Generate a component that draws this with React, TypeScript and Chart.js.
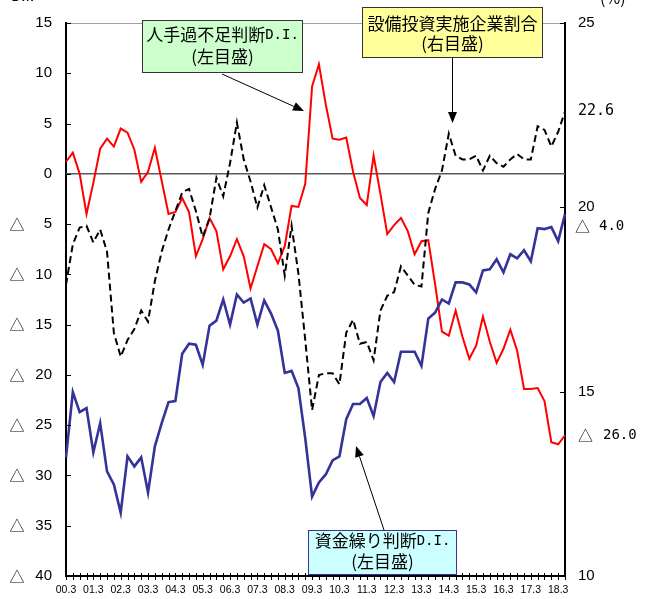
import React, { useEffect, useRef } from "react";
import { Chart, registerables } from "chart.js";

Chart.register(...registerables);

// quarterly categories 00.3 ... 18.6
const categories: string[] = [];
for (let y = 0; y <= 18; y++) {
  for (const m of [3, 6, 9, 12]) {
    if (y === 18 && m > 6) break;
    categories.push(`${String(y).padStart(2, "0")}.${m}`);
  }
}

// 人手過不足判断D.I. (left axis)
const labourDI: number[] = [
  1.2, 2.1, 0.0, -4.0, -0.9, 2.5, 3.5, 2.7, 4.5, 4.1,
  2.4, -0.8, 0.2, 2.6, -0.7, -4.0, -3.8, -2.4, -3.8, -8.2,
  -6.5, -4.4, -5.7, -9.5, -8.2, -6.5, -8.2, -11.4, -9.2, -7.0,
  -7.5, -8.9, -7.2, -3.2, -3.3, -1.0, 8.7, 10.9, 6.9, 3.5,
  3.4, 3.6, 0.2, -2.4, -3.1, 1.8, -2.0, -6.0, -5.1, -4.4,
  -5.7, -8.0, -6.7, -6.6, -11.0, -15.7, -16.1, -13.6, -16.2, -18.4,
  -17.1, -14.2, -16.7, -18.8, -17.4, -15.5, -17.6, -21.4, -21.4, -21.3,
  -22.6, -26.7, -26.9, -26.0,
];

// 資金繰り判断D.I. (left axis)
const financeDI: number[] = [
  -28.2, -21.7, -23.7, -23.3, -27.7, -24.8, -29.6, -30.9, -33.7, -28.1,
  -29.1, -28.2, -31.7, -27.1, -24.8, -22.7, -22.6, -17.9, -16.9, -17.0,
  -19.0, -15.1, -14.6, -12.5, -15.0, -12.0, -12.8, -12.4, -15.0, -12.6,
  -13.9, -15.6, -19.8, -19.6, -21.3, -26.3, -32.1, -30.7, -29.9, -28.5,
  -28.1, -24.4, -22.9, -22.9, -22.3, -24.1, -20.7, -19.8, -20.7, -17.7,
  -17.7, -17.7, -19.1, -14.4, -13.8, -12.5, -12.9, -10.8, -10.8, -11.0,
  -11.8, -9.6, -9.5, -8.5, -9.8, -8.0, -8.4, -7.6, -8.7, -5.4,
  -5.5, -5.3, -6.7, -4.0,
];

// 設備投資実施企業割合 (right axis, %)
const capexShare: number[] = [
  17.9, 19.0, 19.45, 19.5, 19.05, 19.4, 18.8, 16.6, 15.95, 16.4,
  16.7, 17.2, 16.9, 18.0, 18.8, 19.4, 19.9, 20.4, 20.5, 19.9,
  19.2, 19.7, 20.8, 20.3, 21.2, 22.3, 21.3, 20.7, 20.0, 20.6,
  20.0, 19.4, 18.15, 19.5, 18.2, 16.4, 14.5, 15.45, 15.5, 15.5,
  15.2, 16.6, 16.95, 16.3, 16.35, 15.85, 17.2, 17.6, 17.7, 18.4,
  18.15, 17.9, 17.85, 19.85, 20.5, 21.0, 22.0, 21.4, 21.3, 21.3,
  21.4, 21.0, 21.4, 21.2, 21.1, 21.3, 21.45, 21.3, 21.3, 22.2,
  22.1, 21.65, 22.05, 22.6,
];

const leftTicksMin = -40;
const leftTicksMax = 15;
const rightTicksMin = 10;
const rightTicksMax = 25;

const CJK = "'Noto Sans CJK JP'";
const MONO = "'DejaVu Sans Mono'";

type Run = { text: string; font: string };

function drawRuns(ctx: CanvasRenderingContext2D, runs: Run[], cx: number, cy: number) {
  let total = 0;
  const widths = runs.map((r) => {
    ctx.font = r.font;
    const w = ctx.measureText(r.text).width;
    total += w;
    return w;
  });
  let x = cx - total / 2;
  ctx.textAlign = "left";
  ctx.textBaseline = "middle";
  runs.forEach((r, i) => {
    ctx.font = r.font;
    ctx.fillText(r.text, x, cy);
    x += widths[i];
  });
}

function drawArrow(ctx: CanvasRenderingContext2D, x1: number, y1: number, x2: number, y2: number) {
  const ang = Math.atan2(y2 - y1, x2 - x1);
  const len = 11;
  const half = 4.5;
  const bx = x2 - len * Math.cos(ang);
  const by = y2 - len * Math.sin(ang);
  ctx.strokeStyle = "#000";
  ctx.lineWidth = 1;
  ctx.beginPath();
  ctx.moveTo(x1, y1);
  ctx.lineTo(bx, by);
  ctx.stroke();
  ctx.fillStyle = "#000";
  ctx.beginPath();
  ctx.moveTo(x2, y2);
  ctx.lineTo(bx + half * Math.sin(ang), by - half * Math.cos(ang));
  ctx.lineTo(bx - half * Math.sin(ang), by + half * Math.cos(ang));
  ctx.closePath();
  ctx.fill();
}

function drawBox(
  ctx: CanvasRenderingContext2D,
  x: number, y: number, w: number, h: number,
  fill: string, stroke: string,
  lines: { runs: Run[]; cy: number }[]
) {
  ctx.fillStyle = fill;
  ctx.fillRect(x, y, w, h);
  ctx.strokeStyle = stroke;
  ctx.lineWidth = 1;
  ctx.strokeRect(x + 0.5, y + 0.5, w - 1, h - 1);
  ctx.fillStyle = "#000";
  lines.forEach((l) => drawRuns(ctx, l.runs, x + w / 2, l.cy));
}

const decor = {
  id: "decor",
  beforeDatasetsDraw(chart: any) {
    const { ctx, chartArea: a, scales } = chart;
    const y = scales.y;
    ctx.save();
    // top border
    ctx.strokeStyle = "#a0a0a0";
    ctx.lineWidth = 1;
    ctx.beginPath();
    ctx.moveTo(a.left, a.top + 0.5);
    ctx.lineTo(a.right, a.top + 0.5);
    ctx.stroke();
    // zero line
    const y0 = y.getPixelForValue(0);
    ctx.strokeStyle = "#5a5a5a";
    ctx.lineWidth = 1.5;
    ctx.beginPath();
    ctx.moveTo(a.left, y0);
    ctx.lineTo(a.right, y0);
    ctx.stroke();
    ctx.restore();
  },
  afterDraw(chart: any) {
    const { ctx, chartArea: a, scales } = chart;
    const x = scales.x;
    const y = scales.y;
    const y1 = scales.y1;
    ctx.save();
    ctx.strokeStyle = "#000";
    ctx.lineWidth = 1;
    // left ticks (inward) and triangles for negative values
    y.ticks.forEach((t: any) => {
      const py = Math.round(y.getPixelForValue(t.value)) + 0.5;
      ctx.beginPath();
      ctx.moveTo(a.left, py);
      ctx.lineTo(a.left + 5, py);
      ctx.stroke();
      if (t.value < 0) {
        ctx.fillStyle = "#000";
        ctx.font = `15px ${CJK}`;
        ctx.textAlign = "center";
        ctx.textBaseline = "middle";
        ctx.fillText("△", 17, y.getPixelForValue(t.value));
      }
    });
    // right ticks (inward)
    y1.ticks.forEach((t: any) => {
      const py = Math.round(y1.getPixelForValue(t.value)) + 0.5;
      ctx.beginPath();
      ctx.moveTo(a.right, py);
      ctx.lineTo(a.right - 5, py);
      ctx.stroke();
    });
    // x ticks, one per quarter, crossing the axis
    categories.forEach((_, i) => {
      const px = Math.round(x.getPixelForValue(i)) + 0.5;
      ctx.beginPath();
      ctx.moveTo(px, a.bottom - 3);
      ctx.lineTo(px, a.bottom + 4);
      ctx.stroke();
    });

    // latest values on the right
    ctx.fillStyle = "#000";
    ctx.textBaseline = "middle";
    ctx.textAlign = "left";
    const lastCap = capexShare[capexShare.length - 1];
    ctx.font = `15px ${MONO}`;
    ctx.fillText(lastCap.toFixed(1), a.right + 13, y1.getPixelForValue(lastCap));

    const lastFin = financeDI[financeDI.length - 1];
    const finY = y.getPixelForValue(lastFin) + 12;
    ctx.font = `15px ${CJK}`;
    ctx.fillText("△", a.right + 10, finY);
    ctx.font = `14px ${MONO}`;
    ctx.fillText(Math.abs(lastFin).toFixed(1), a.right + 34, finY);

    const lastLab = labourDI[labourDI.length - 1];
    const labY = y.getPixelForValue(lastLab);
    ctx.font = `15px ${CJK}`;
    ctx.fillText("△", a.right + 13, labY);
    ctx.font = `14px ${MONO}`;
    ctx.fillText(Math.abs(lastLab).toFixed(1), a.right + 38, labY);

    // clipped axis titles at the very top
    ctx.textBaseline = "alphabetic";
    ctx.font = `15px ${CJK}`;
    ctx.fillText("D.I.", 11, 1);
    ctx.font = `16px ${CJK}`;
    ctx.fillText("(%)", 600, 4);

    // annotation boxes
    const f17 = `17px ${CJK}`;
    const m14 = `14px ${MONO}`;
    drawBox(ctx, 142, 20, 161, 53, "#ccffcc", "#333333", [
      { runs: [{ text: "人手過不足判断", font: f17 }, { text: "D.I.", font: m14 }], cy: 35 },
      { runs: [{ text: "(左目盛)", font: f17 }], cy: 56.5 },
    ]);
    drawArrow(ctx, 222, 74, 304, 111);

    drawBox(ctx, 362, 7, 181, 51, "#ffff99", "#333333", [
      { runs: [{ text: "設備投資実施企業割合", font: f17 }], cy: 23.5 },
      { runs: [{ text: "(右目盛)", font: f17 }], cy: 43.5 },
    ]);
    drawArrow(ctx, 452.5, 58, 452.5, 123);

    drawBox(ctx, 308, 530, 149, 45, "#ccffff", "#333399", [
      { runs: [{ text: "資金繰り判断", font: f17 }, { text: "D.I.", font: m14 }], cy: 541 },
      { runs: [{ text: "(左目盛)", font: f17 }], cy: 562 },
    ]);
    drawArrow(ctx, 384, 530, 356, 446);

    ctx.restore();
  },
};

export default function App() {
  const ref = useRef<HTMLCanvasElement>(null);
  useEffect(() => {
    const canvas = ref.current!;
    const chart = new Chart(canvas, {
      type: "line",
      data: {
        labels: categories,
        datasets: [
          {
            label: "設備投資実施企業割合",
            data: capexShare,
            yAxisID: "y1",
            borderColor: "#000000",
            borderWidth: 2,
            borderDash: [7, 4],
            pointRadius: 0,
            tension: 0,
            fill: false,
          },
          {
            label: "資金繰り判断D.I.",
            data: financeDI,
            yAxisID: "y",
            borderColor: "#333399",
            borderWidth: 2.6,
            pointRadius: 0,
            tension: 0,
            fill: false,
          },
          {
            label: "人手過不足判断D.I.",
            data: labourDI,
            yAxisID: "y",
            borderColor: "#ff0000",
            borderWidth: 2,
            pointRadius: 0,
            tension: 0,
            fill: false,
          },
        ],
      },
      options: {
        responsive: false,
        animation: false,
        layout: { padding: { top: 22, left: 0, right: 0, bottom: 0 } },
        plugins: { legend: { display: false }, tooltip: { enabled: false } },
        scales: {
          x: {
            type: "category",
            offset: false,
            grid: { display: false, drawTicks: false },
            border: { display: true, color: "#000", width: 2 },
            ticks: {
              autoSkip: false,
              maxRotation: 0,
              minRotation: 0,
              padding: 8,
              color: "#000",
              font: { family: "Liberation Sans", size: 10.5 },
              callback: (_v: any, i: number) => (i % 4 === 0 ? categories[i] : ""),
            },
            afterFit: (s: any) => {
              s.height = 19;
            },
          },
          y: {
            position: "left",
            min: leftTicksMin,
            max: leftTicksMax,
            grid: { display: false, drawTicks: false },
            border: { display: true, color: "#000", width: 2 },
            ticks: {
              stepSize: 5,
              padding: 14,
              color: "#000",
              font: { family: "Liberation Sans", size: 15 },
              callback: (v: any) => String(Math.abs(Number(v))),
            },
            afterFit: (s: any) => {
              s.width = 66;
            },
          },
          y1: {
            position: "right",
            min: rightTicksMin,
            max: rightTicksMax,
            grid: { display: false, drawTicks: false },
            border: { display: true, color: "#000", width: 2 },
            ticks: {
              stepSize: 5,
              padding: 13,
              color: "#000",
              font: { family: "Liberation Sans", size: 15 },
            },
            afterFit: (s: any) => {
              s.width = 83;
            },
          },
        },
      },
      plugins: [decor],
    } as any);
    return () => chart.destroy();
  }, []);
  return (
    <div style={{ position: "absolute", left: 0, top: 0, width: 648, height: 599, background: "#fff" }}>
      <canvas ref={ref} width={648} height={599} style={{ display: "block" }} />
    </div>
  );
}
